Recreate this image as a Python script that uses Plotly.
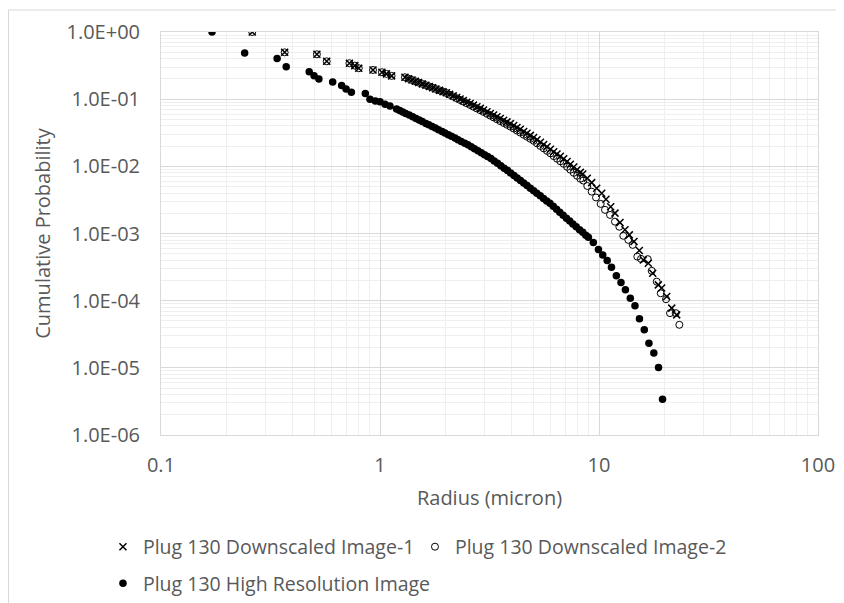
import plotly.graph_objects as go

# ---- data ----
ds1_radius = [0.261, 0.367, 0.515, 0.571, 0.725, 0.767, 0.80, 0.929, 1.02, 1.07, 1.13,
              1.30, 1.35, 1.40, 1.45, 1.50, 1.56, 1.62, 1.68, 1.74, 1.80, 1.87, 1.94,
              2.01, 2.08, 2.16, 2.24, 2.32, 2.40, 2.49, 2.58, 2.67, 2.77, 2.87, 2.97,
              3.08, 3.19, 3.30, 3.42, 3.54, 3.67, 3.80, 3.94, 4.08, 4.22, 4.37, 4.53,
              4.69, 4.86, 5.03, 5.21, 5.40, 5.59, 5.79, 6.00, 6.21, 6.43, 6.66, 6.90,
              7.15, 7.40, 7.67, 7.94, 8.22,
              8.43, 8.84, 9.26, 9.76, 10.29, 10.76, 11.31, 11.83, 12.47, 13.14, 13.75,
              14.45, 15.28, 15.94, 16.80, 17.59, 18.66, 19.33, 20.38, 21.48, 22.64]
ds1_prob = [1.0, 0.498, 0.466, 0.366, 0.343, 0.316, 0.289, 0.272, 0.252, 0.238, 0.222,
            0.212, 0.202, 0.193, 0.185, 0.177, 0.169, 0.1615, 0.1547, 0.1478, 0.1416, 0.1353, 0.1293,
            0.1246, 0.1184, 0.1120, 0.1061, 0.1005, 0.0951, 0.0901, 0.0861, 0.0815, 0.0770, 0.0730, 0.0691,
            0.0649, 0.0612, 0.0580, 0.0547, 0.0514, 0.0485, 0.0459, 0.0432, 0.0406, 0.0379, 0.0356, 0.0330,
            0.0310, 0.0289, 0.0269, 0.0249, 0.0229, 0.0212, 0.0196, 0.0180, 0.0165, 0.0153, 0.0141, 0.0130,
            0.01184, 0.01071, 0.00980, 0.00892, 0.00813,
            0.00770, 0.00665, 0.00572, 0.00472, 0.00398, 0.00324, 0.00251, 0.00201, 0.00146, 0.00114, 0.000953,
            0.000758, 0.000557, 0.000404, 0.000361, 0.000256, 0.000172, 0.000154, 0.000115, 0.0000774, 0.0000615]

ds2_radius = [0.261, 0.367, 0.515, 0.571, 0.725, 0.767, 0.80, 0.929, 1.02, 1.07, 1.13,
              1.30, 1.35, 1.40, 1.45, 1.50, 1.56, 1.62, 1.68, 1.74, 1.80, 1.87, 1.94,
              2.01, 2.08, 2.16, 2.24, 2.32, 2.40, 2.49, 2.58, 2.67, 2.77, 2.87, 2.97,
              3.08, 3.19, 3.30, 3.42, 3.54, 3.67, 3.80, 3.94, 4.08, 4.22, 4.37, 4.53,
              4.69, 4.86, 5.03, 5.21, 5.40, 5.59, 5.79, 6.00, 6.21, 6.43, 6.66, 6.90,
              7.15, 7.40, 7.67, 7.94, 8.22,
              8.48, 8.84, 9.26, 9.69, 10.18, 10.65, 11.23, 11.83, 12.38, 12.91, 13.61,
              14.25, 14.96, 15.55, 16.69, 17.40, 18.35, 19.13, 20.23, 21.10, 22.40, 23.27]
ds2_prob = [1.0, 0.498, 0.466, 0.366, 0.343, 0.316, 0.289, 0.272, 0.252, 0.238, 0.222,
            0.212, 0.202, 0.193, 0.185, 0.177, 0.169, 0.1615, 0.1547, 0.1478, 0.1416, 0.1353, 0.1293,
            0.1233, 0.1165, 0.1098, 0.1034, 0.0976, 0.0924, 0.0870, 0.0819, 0.0772, 0.0726, 0.0684, 0.0646,
            0.0605, 0.0568, 0.0535, 0.0502, 0.0471, 0.0442, 0.0416, 0.0390, 0.0365, 0.0341, 0.0318, 0.0295,
            0.0276, 0.0257, 0.0240, 0.0220, 0.0201, 0.0185, 0.0170, 0.0156, 0.0142, 0.0130, 0.0119, 0.0109,
            0.00984, 0.00890, 0.00801, 0.00723, 0.00653,
            0.00613, 0.00510, 0.00420, 0.00344, 0.00276, 0.00225, 0.00189, 0.00150, 0.00126, 0.000925, 0.000804,
            0.000677, 0.000453, 0.000419, 0.000415, 0.000278, 0.000192, 0.000129, 0.000105, 0.0000652, 0.0000652, 0.0000437]

hr_radius = [0.171, 0.241, 0.339, 0.373, 0.475, 0.50, 0.526, 0.608, 0.668, 0.70, 0.74,
             0.857, 0.90, 0.952, 1.0, 1.054, 1.11, 1.19,
             1.23, 1.27, 1.31, 1.36, 1.41, 1.46, 1.51, 1.56, 1.62, 1.67, 1.73, 1.79,
             1.85, 1.92, 1.98, 2.05, 2.12, 2.20, 2.27, 2.35, 2.44, 2.52, 2.61, 2.70,
             2.80, 2.90, 3.00, 3.10, 3.21, 3.32, 3.44, 3.56, 3.69, 3.82, 3.95, 4.09,
             4.23, 4.38, 4.53, 4.69, 4.86, 5.03, 5.20, 5.39, 5.58, 5.77, 5.97, 6.18,
             6.40, 6.62, 6.86, 7.10, 7.35, 7.60, 7.87, 8.15, 8.43, 8.70,
             8.94, 9.42, 9.94, 10.4, 10.9, 11.4, 12.0, 12.6, 13.2, 13.9, 14.6, 15.3,
             16.1, 16.9, 17.8, 18.7, 19.5]
hr_prob = [1.0, 0.487, 0.404, 0.304, 0.2565, 0.2237, 0.200, 0.180, 0.1594, 0.1416, 0.1269,
           0.1211, 0.0994, 0.0940, 0.0919, 0.0840, 0.0793, 0.0715,
           0.0680, 0.0646, 0.0614, 0.0579, 0.0546, 0.0516, 0.0489, 0.0464, 0.0436, 0.0415, 0.0392, 0.0371,
           0.0351, 0.0331, 0.0314, 0.0296, 0.0280, 0.0264, 0.0249, 0.0235, 0.0221, 0.0209, 0.0196, 0.0183,
           0.0171, 0.0159, 0.0149, 0.01405, 0.01304, 0.01205, 0.01107, 0.01022, 0.00938, 0.00865, 0.00797, 0.00731,
           0.00670, 0.00615, 0.00565, 0.00517, 0.00472, 0.00433, 0.00398, 0.00364, 0.00333, 0.00306, 0.00281, 0.00255,
           0.00230, 0.00208, 0.00187, 0.00169, 0.00153, 0.00139, 0.00126, 0.00114, 0.00104, 0.000944,
           0.000880, 0.000734, 0.000580, 0.000480, 0.000396, 0.000314, 0.000234, 0.000186, 0.000145, 0.000109, 0.0000837, 0.0000537,
           0.0000368, 0.0000233, 0.0000166, 0.0000101, 0.0000034]

y_tickvals = [1e0, 1e-1, 1e-2, 1e-3, 1e-4, 1e-5, 1e-6]
y_ticktext = ["1.0E+00", "1.0E-01", "1.0E-02", "1.0E-03", "1.0E-04", "1.0E-05", "1.0E-06"]

FONT = "Open Sans"
GRAY = "#595959"

fig = go.Figure()
fig.add_trace(go.Scatter(
    x=ds1_radius, y=ds1_prob, mode="markers", name="Plug 130 Downscaled Image-1",
    marker=dict(symbol="x-thin-open", size=7, color="black", line=dict(color="black", width=1.5)),
    legend="legend"))
fig.add_trace(go.Scatter(
    x=ds2_radius, y=ds2_prob, mode="markers", name="Plug 130 Downscaled Image-2",
    marker=dict(symbol="circle-open", size=7, color="black", line=dict(color="black", width=1)),
    legend="legend"))
fig.add_trace(go.Scatter(
    x=hr_radius, y=hr_prob, mode="markers", name="Plug 130 High Resolution Image",
    marker=dict(symbol="circle", size=7.5, color="black"),
    legend="legend2"))

axis_common = dict(
    type="log", showgrid=True, gridcolor="#d9d9d9", gridwidth=1,
    showline=True, linecolor="#d9d9d9", linewidth=1, mirror=True,
    zeroline=False, ticks="", tickfont=dict(family=FONT, size=20, color=GRAY),
    minor=dict(dtick="D1", showgrid=True, gridcolor="#efefef", ticks=""),
)

fig.update_xaxes(**axis_common, range=[-1, 2], dtick=1, ticklabelstandoff=12,
                 title=dict(text="Radius (micron)", font=dict(family=FONT, size=20, color=GRAY), standoff=13))
fig.update_yaxes(**axis_common, range=[-6, 0], tickmode="array", tickvals=y_tickvals, ticktext=y_ticktext,
                 ticklabelstandoff=16,
                 title=dict(text="Cumulative Probability", font=dict(family=FONT, size=20, color=GRAY), standoff=10))

legend_font = dict(family=FONT, size=19.5, color=GRAY)
fig.update_layout(
    width=836, height=595,
    margin=dict(l=153, r=26, t=24, b=168, autoexpand=False),
    paper_bgcolor="white", plot_bgcolor="white",
    font=dict(family=FONT, color=GRAY),
    legend=dict(orientation="h", x=0.1136, y=0.0941, xref="container", yref="container",
                xanchor="left", yanchor="middle", entrywidth=267, entrywidthmode="pixels",
                itemwidth=30, font=legend_font, bgcolor="rgba(0,0,0,0)"),
    legend2=dict(orientation="h", x=0.1136, y=0.0328, xref="container", yref="container",
                 xanchor="left", yanchor="middle", itemwidth=30,
                 font=legend_font, bgcolor="rgba(0,0,0,0)"),
    shapes=[dict(type="rect", xref="paper", yref="paper", x0=-0.2321, x1=1.0304, y0=-0.479, y1=1.0546,
                 line=dict(color="#d9d9d9", width=1), fillcolor="rgba(0,0,0,0)", layer="below")],
)

fig.write_html("out.html")
